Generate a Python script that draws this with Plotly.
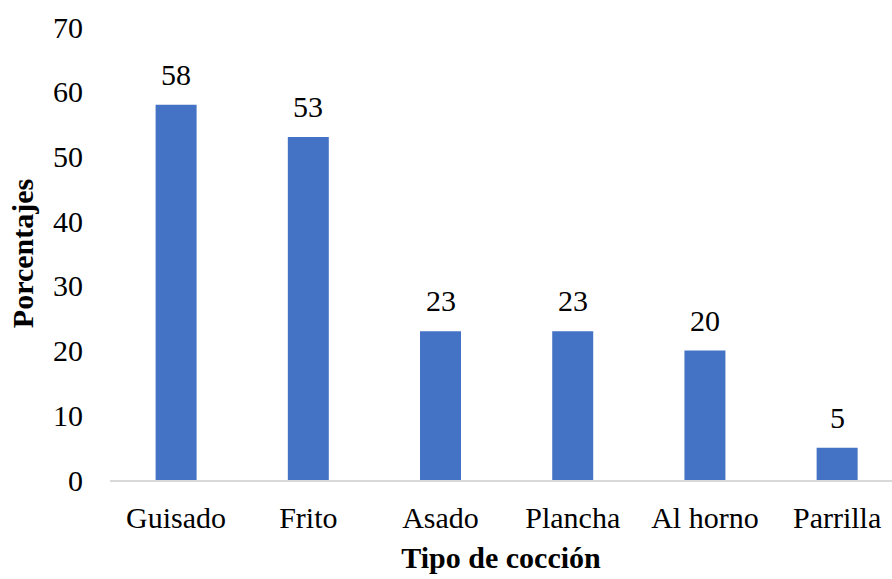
import plotly.graph_objects as go

# Cooking methods and their share (%)
categorias = ["Guisado", "Frito", "Asado", "Plancha", "Al horno", "Parrilla"]
porcentajes = [58, 53, 23, 23, 20, 5]
etiquetas = [str(v) for v in porcentajes]
ticks_y = [0, 10, 20, 30, 40, 50, 60, 70]

FONT = "Times New Roman"

fig = go.Figure(
    go.Bar(
        x=categorias,
        y=porcentajes,
        marker=dict(color="#4472C4", line=dict(width=0)),
        width=0.31,
        hoverinfo="x+y",
    )
)

# Value labels placed a little above each bar
for cat, val, txt in zip(categorias, porcentajes, etiquetas):
    fig.add_annotation(
        x=cat,
        y=val,
        text=txt,
        showarrow=False,
        yanchor="bottom",
        yshift=12,
        font=dict(family=FONT, size=30, color="black"),
    )

fig.update_layout(
    width=892,
    height=579,
    margin=dict(l=110, r=0, t=27, b=99),
    paper_bgcolor="white",
    plot_bgcolor="white",
    showlegend=False,
    font=dict(family=FONT, size=30, color="black"),
    xaxis=dict(
        range=[-0.5, 5.415],
        showgrid=False,
        showline=True,
        linecolor="#d9d9d9",
        linewidth=2,
        ticks="",
        ticklabelstandoff=10,
        tickfont=dict(family=FONT, size=30, color="black"),
        title=dict(
            text="<b>Tipo de cocción</b>",
            font=dict(family=FONT, size=30, color="black"),
            standoff=14,
        ),
    ),
    yaxis=dict(
        range=[0, 70],
        tickvals=ticks_y,
        showgrid=False,
        zeroline=False,
        showline=False,
        ticks="",
        ticklabelstandoff=26,
        tickfont=dict(family=FONT, size=30, color="black"),
        title=dict(
            text="<b>Porcentajes</b>",
            font=dict(family=FONT, size=30, color="black"),
            standoff=10,
        ),
    ),
)

fig.write_html("out.html")
